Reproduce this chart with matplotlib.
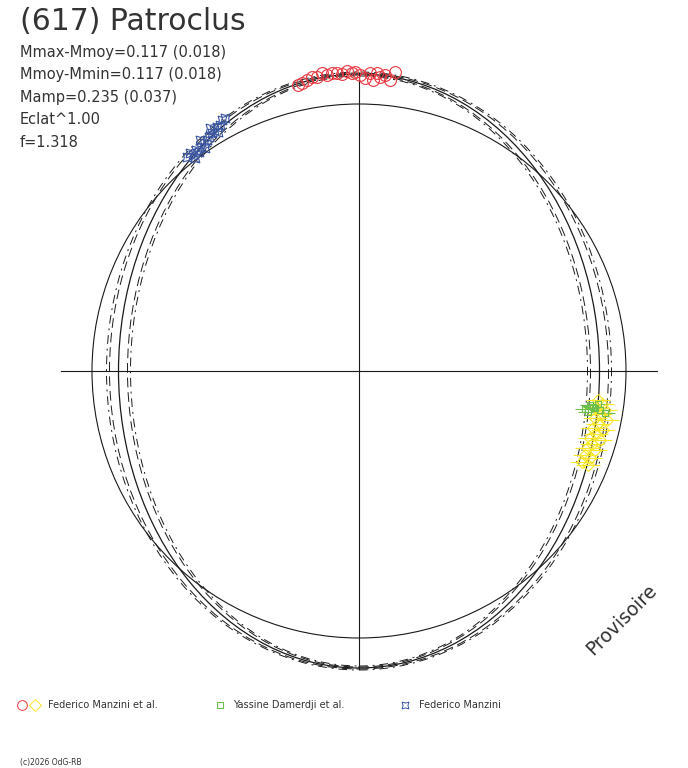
import matplotlib
matplotlib.use("Agg")
import matplotlib.pyplot as plt
from matplotlib.patches import Ellipse, Circle

# plot units: 1 unit ~ 1 px, origin at the centre of the diagram
title = "(617) Patroclus"
stats = ["Mmax-Mmoy=0.117 (0.018)", "Mmoy-Mmin=0.117 (0.018)",
         "Mamp=0.235 (0.037)", "Eclat^1.00", "f=1.318"]

circle_r = 267
profile_a = 240.5
profile_b = 297
band_da = [-12, -9, 9, 12]
band_db = [-2, -1, 1, 2]
band_ls = [(0, (9, 5, 2, 5)), (0, (10, 5)), (0, (10, 5)), (0, (9, 5, 2, 5))]
axis_len = 298

red_x = [-61, -57, -52, -47, -42, -37, -32, -27, -22, -17, -12, -7, -4, 1, 6, 11, 14, 18, 21, 26, 31, 36]
red_y = [286, 288, 291, 294, 294, 298, 296, 298, 298, 297, 300, 298, 299, 296, 293, 298, 291, 298, 294, 296, 291, 299]

blue_x = [-172, -169, -166, -163, -160, -158, -155, -152, -150, -147, -145, -142, -139, -137, -134, -141, -154, -164, -149, -159]
blue_y = [214, 218, 216, 221, 219, 224, 228, 231, 234, 238, 241, 244, 246, 251, 253, 239, 223, 213, 243, 231]

yellow_x = [239, 243, 237, 246, 241, 236, 248, 239, 234, 244, 237, 231, 241, 233, 228, 236, 226, 231, 223, 229]
yellow_y = [-29, -33, -37, -39, -43, -47, -49, -53, -57, -59, -63, -67, -69, -73, -77, -79, -84, -87, -91, -94]
yellow_err = 12

green_x = [231, 236, 241, 229, 234, 246, 239, 226]
green_y = [-34, -37, -39, -41, -36, -42, -33, -38]
green_err = 10

observers = ["Federico Manzini et al.", "Yassine Damerdji et al.", "Federico Manzini"]

red = "#e8373f"
yellow = "#f7e62a"
green = "#6abf4b"
blue = "#3a56a3"
ink = "#1a1a1a"
txt = "#333333"

fig = plt.figure(figsize=(6.88, 7.68), dpi=100)
ax = fig.add_axes([0, 0, 1, 1])
ax.set_xlim(-359, 329)
ax.set_ylim(-397, 371)
ax.axis("off")

ax.plot([-axis_len, axis_len], [0, 0], color=ink, lw=0.8)
ax.plot([0, 0], [-axis_len, axis_len], color=ink, lw=0.8)

ax.add_patch(Circle((0, 0), circle_r, fill=False, ec=ink, lw=0.8))
ax.add_patch(Ellipse((0, 0), 2 * profile_a, 2 * profile_b, fill=False, ec=ink, lw=0.9))
for da, db, ls in zip(band_da, band_db, band_ls):
    ax.add_patch(Ellipse((0, 0), 2 * (profile_a + da), 2 * (profile_b + db),
                         fill=False, ec=ink, lw=0.7, ls=ls))

ax.plot(red_x, red_y, "o", ms=8.5, mfc="none", mec=red, mew=0.8)
ax.plot(blue_x, blue_y, marker=(4, 1, 45), ls="none", ms=9, mfc="none", mec=blue, mew=0.8)
ax.errorbar(yellow_x, yellow_y, xerr=yellow_err, fmt="D", ms=6, mfc="none", mec=yellow,
            mew=0.8, ecolor=yellow, elinewidth=0.8, capsize=0)
ax.errorbar(green_x, green_y, xerr=green_err, fmt="s", ms=4.5, mfc="none", mec=green,
            mew=0.8, ecolor=green, elinewidth=0.8, capsize=0)

ax.text(-339, 341, title, fontsize=21.5, color=txt, va="baseline")
for i, s in enumerate(stats):
    ax.text(-339, 314 - 22.5 * i, s, fontsize=10.5, color=txt, va="baseline")

ax.text(263, -249, "Provisoire", fontsize=13.5, rotation=45, color=txt,
        ha="center", va="center")

# legend, drawn by hand
ly = -334
ax.plot([-337], [ly], "o", ms=7, mfc="none", mec=red, mew=0.7)
ax.plot([-324], [ly], "D", ms=6, mfc="none", mec=yellow, mew=0.7)
ax.text(-311, ly, observers[0], fontsize=7, va="center", color=txt)
ax.plot([-139], [ly], "s", ms=5, mfc="none", mec=green, mew=0.8)
ax.text(-126, ly, observers[1], fontsize=7, va="center", color=txt)
ax.plot([46], [ly], marker=(4, 1, 45), ls="none", ms=7, mfc="none", mec=blue, mew=0.7)
ax.text(60, ly, observers[2], fontsize=7, va="center", color=txt)

ax.text(-339, -391, "(c)2026 OdG-RB", fontsize=5.5, va="center", color=txt)

fig.savefig("out.png", dpi=100, facecolor="white")
